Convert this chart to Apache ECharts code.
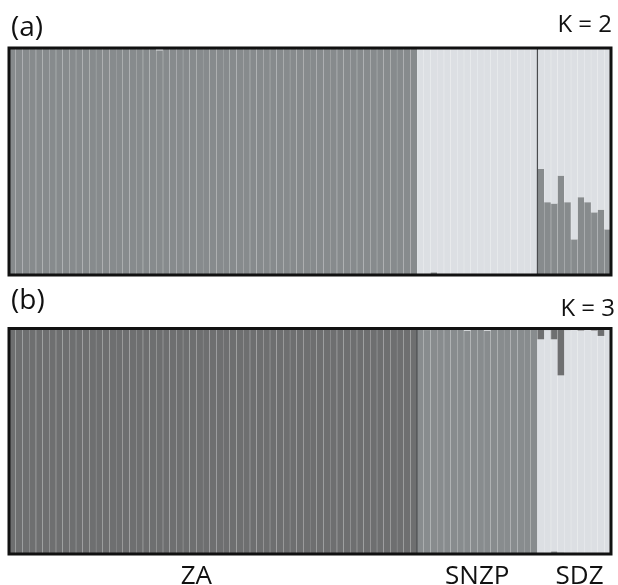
<!DOCTYPE html>
<html><head><meta charset="utf-8">
<script src="https://cdn.jsdelivr.net/npm/echarts@6/dist/echarts.min.js"></script>
<style>html,body{margin:0;padding:0;background:#fff}#c{width:618px;height:585px}</style>
</head><body><div id="c"></div>
<script>
// Populations
const popNames = ['ZA', 'SNZP', 'SDZ'];
const popSizes = [61, 18, 11];
const popLabelPos = [28, 70, 85.3];   // label anchor positions (in individuals)
const panelTitles = ['(a)', '(b)'];
const kLabels = ['K = 2', 'K = 3'];

// ---------- K = 2 ----------
// cluster 1 (dark grey, bottom)
const k2_ZA_c1 = [
  0.998,0.997,0.999,0.998,0.996,0.998,0.999,0.997,0.998,0.999,
  0.998,0.996,0.998,0.999,0.997,0.998,0.999,0.998,0.997,0.998,
  0.999,0.998,0.990,0.998,0.997,0.999,0.998,0.996,0.998,0.999,
  0.997,0.998,0.999,0.998,0.997,0.998,0.999,0.998,0.996,0.998,
  0.999,0.997,0.998,0.999,0.998,0.997,0.998,0.999,0.998,0.996,
  0.998,0.999,0.997,0.998,0.999,0.998,0.997,0.998,0.999,0.998,
  0.997];
const k2_ZA_c2 = [
  0.002,0.003,0.001,0.002,0.004,0.002,0.001,0.003,0.002,0.001,
  0.002,0.004,0.002,0.001,0.003,0.002,0.001,0.002,0.003,0.002,
  0.001,0.002,0.010,0.002,0.003,0.001,0.002,0.004,0.002,0.001,
  0.003,0.002,0.001,0.002,0.003,0.002,0.001,0.002,0.004,0.002,
  0.001,0.003,0.002,0.001,0.002,0.003,0.002,0.001,0.002,0.004,
  0.002,0.001,0.003,0.002,0.001,0.002,0.003,0.002,0.001,0.002,
  0.003];
const k2_SNZP_c1 = [0.003,0.003,0.012,0.003,0.002,0.003,0.003,0.002,0.006,0.003,0.003,0.002,0.003,0.003,0.006,0.003,0.002,0.003];
const k2_SNZP_c2 = [0.997,0.997,0.988,0.997,0.998,0.997,0.997,0.998,0.994,0.997,0.997,0.998,0.997,0.997,0.994,0.997,0.998,0.997];
const k2_SDZ_c1 = [0.468,0.321,0.315,0.438,0.321,0.157,0.343,0.321,0.276,0.288,0.201];
const k2_SDZ_c2 = [0.532,0.679,0.685,0.562,0.679,0.843,0.657,0.679,0.724,0.712,0.799];

// ---------- K = 3 ----------
// c1 = dark (ZA), c2 = medium (SNZP), c3 = light (SDZ)
const k3_ZA_c1 = [
  0.998,0.998,0.997,0.998,0.998,0.998,0.997,0.998,0.998,0.998,
  0.998,0.997,0.998,0.998,0.998,0.998,0.997,0.998,0.998,0.998,
  0.998,0.998,0.997,0.998,0.998,0.998,0.998,0.997,0.998,0.998,
  0.998,0.998,0.998,0.997,0.998,0.998,0.998,0.998,0.997,0.998,
  0.998,0.998,0.998,0.998,0.997,0.998,0.998,0.998,0.998,0.997,
  0.998,0.998,0.998,0.998,0.998,0.997,0.998,0.998,0.998,0.998,
  0.998];
const k3_ZA_c2 = [
  0.001,0.001,0.002,0.001,0.001,0.001,0.002,0.001,0.001,0.001,
  0.001,0.002,0.001,0.001,0.001,0.001,0.002,0.001,0.001,0.001,
  0.001,0.001,0.002,0.001,0.001,0.001,0.001,0.002,0.001,0.001,
  0.001,0.001,0.001,0.002,0.001,0.001,0.001,0.001,0.002,0.001,
  0.001,0.001,0.001,0.001,0.002,0.001,0.001,0.001,0.001,0.002,
  0.001,0.001,0.001,0.001,0.001,0.002,0.001,0.001,0.001,0.001,
  0.001];
const k3_ZA_c3 = [
  0.001,0.001,0.001,0.001,0.001,0.001,0.001,0.001,0.001,0.001,
  0.001,0.001,0.001,0.001,0.001,0.001,0.001,0.001,0.001,0.001,
  0.001,0.001,0.001,0.001,0.001,0.001,0.001,0.001,0.001,0.001,
  0.001,0.001,0.001,0.001,0.001,0.001,0.001,0.001,0.001,0.001,
  0.001,0.001,0.001,0.001,0.001,0.001,0.001,0.001,0.001,0.001,
  0.001,0.001,0.001,0.001,0.001,0.001,0.001,0.001,0.001,0.001,
  0.001];
const k3_SNZP_c1 = [0.001,0.001,0.001,0.001,0.001,0.001,0.001,0.001,0.001,0.001,0.001,0.001,0.001,0.001,0.001,0.001,0.001,0.001];
const k3_SNZP_c2 = [0.997,0.993,0.997,0.997,0.997,0.997,0.997,0.991,0.997,0.997,0.991,0.997,0.997,0.997,0.997,0.997,0.997,0.997];
const k3_SNZP_c3 = [0.002,0.006,0.002,0.002,0.002,0.002,0.002,0.008,0.002,0.002,0.008,0.002,0.002,0.002,0.002,0.002,0.002,0.002];
const k3_SDZ_c1 = [0.048,0.007,0.048,0.208,0.007,0.003,0.009,0.006,0.009,0.033,0.006];
const k3_SDZ_c2 = [0.004,0.005,0.012,0.007,0.004,0.004,0.004,0.004,0.004,0.006,0.004];
const k3_SDZ_c3 = [0.948,0.988,0.940,0.785,0.989,0.993,0.987,0.990,0.987,0.961,0.990];

// ---------- build ----------
const categories = [];
popNames.forEach((n, p) => { for (let i = 0; i < popSizes[p]; i++) categories.push(n + '-' + (i + 1)); });
const cum = []; popSizes.reduce((a, s) => { cum.push(a + s); return a + s; }, 0);
const total = cum[cum.length - 1];

const k2c1 = k2_ZA_c1.concat(k2_SNZP_c1, k2_SDZ_c1);
const k2c2 = k2_ZA_c2.concat(k2_SNZP_c2, k2_SDZ_c2);
const k3c1 = k3_ZA_c1.concat(k3_SNZP_c1, k3_SDZ_c1);
const k3c2 = k3_ZA_c2.concat(k3_SNZP_c2, k3_SDZ_c2);
const k3c3 = k3_ZA_c3.concat(k3_SNZP_c3, k3_SDZ_c3);

const FONT = 'Open Sans';
const textStyle = (size) => ({ fontSize: size, fontWeight: 'normal', color: '#111', fontFamily: FONT });

const catAxis = (gi) => ({
  type: 'category', gridIndex: gi, data: categories, z: 4,
  axisLine: { show: false }, axisTick: { show: false }, axisLabel: { show: false },
  splitLine: { show: true, interval: 0, lineStyle: { color: 'rgba(255,255,255,0.13)', width: 1 } }
});
const barS = (xi, yi, stack, data, color) => ({
  type: 'bar', xAxisIndex: xi, yAxisIndex: yi, stack, data, silent: true,
  barCategoryGap: '0%', barGap: '0%', itemStyle: { color, borderWidth: 0 }
});
const sepLine = (xi, yi, b) => ({
  type: 'line', xAxisIndex: xi, yAxisIndex: yi, data: [[b, 0], [b, 1]], symbol: 'none', silent: true, z: 5,
  lineStyle: { color: '#4a4c4e', width: 1.2 }
});

const chart = echarts.init(document.getElementById('c'), null, { renderer: 'canvas' });
chart.setOption({
  animation: false,
  backgroundColor: '#fff',
  title: [
    { text: panelTitles[0], left: 11, top: 14, padding: 0, textStyle: textStyle(28) },
    { text: kLabels[0], right: 6, top: 13, padding: 0, textStyle: textStyle(24) },
    { text: panelTitles[1], left: 11, top: 287, padding: 0, textStyle: textStyle(28) },
    { text: kLabels[1], right: 3, top: 297, padding: 0, textStyle: textStyle(24) }
  ],
  grid: [
    { left: 9, top: 48, width: 602, height: 227, show: true, borderColor: '#111', borderWidth: 3,
      backgroundColor: 'transparent', z: 10, containLabel: false, outerBoundsMode: 'none' },
    { left: 9, top: 328.5, width: 602, height: 225.5, show: true, borderColor: '#111', borderWidth: 3,
      backgroundColor: 'transparent', z: 10, containLabel: false, outerBoundsMode: 'none' }
  ],
  xAxis: [
    catAxis(0),
    { type: 'value', gridIndex: 0, min: 0, max: total, show: false },
    catAxis(1),
    { type: 'value', gridIndex: 1, min: 0, max: total, position: 'bottom',
      axisLine: { show: false }, axisTick: { show: false }, splitLine: { show: false },
      axisLabel: { show: true, customValues: popLabelPos, margin: 10, fontSize: 26, color: '#111', fontFamily: FONT,
        formatter: (v) => { const i = popLabelPos.indexOf(v); return i >= 0 ? popNames[i] : ''; } } }
  ],
  yAxis: [
    { type: 'value', gridIndex: 0, min: 0, max: 1, show: false },
    { type: 'value', gridIndex: 1, min: 0, max: 1, show: false }
  ],
  series: [
    barS(0, 0, 'k2', k2c1, '#878b8d'),
    barS(0, 0, 'k2', k2c2, '#dcdfe3'),
    sepLine(1, 0, cum[1]),
    barS(2, 1, 'k3', k3c2, '#888c8e'),
    barS(2, 1, 'k3', k3c3, '#dcdfe3'),
    barS(2, 1, 'k3', k3c1, '#6e6f70'),
    sepLine(3, 1, cum[0])
  ]
});
</script>
</body></html>
